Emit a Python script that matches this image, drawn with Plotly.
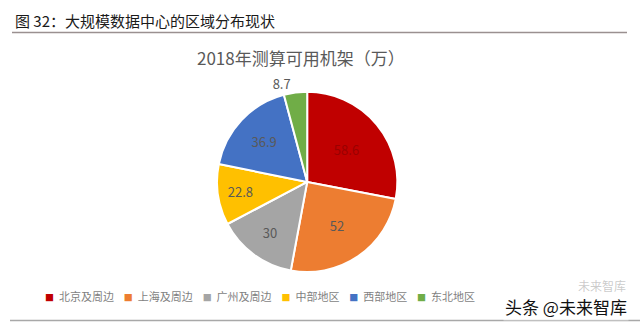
import plotly.graph_objects as go

# Estimated available rack capacity in 2018 (10k racks), by region
regions = ["北京及周边", "上海及周边", "广州及周边", "中部地区", "西部地区", "东北地区"]
racks = [58.6, 52, 30, 22.8, 36.9, 8.7]
colors = ["#C00000", "#ED7D31", "#A5A5A5", "#FFC000", "#4472C4", "#70AD47"]
label_colors = ["#9A0000", "#595959", "#595959", "#595959", "#595959", "#595959"]
label_positions = ["inside", "inside", "inside", "inside", "inside", "outside"]

header = "图 32：大规模数据中心的区域分布现状"
chart_title = "2018年测算可用机架（万）"
watermark = "头条 @未来智库"

CJK = "Noto Sans CJK SC"

fig = go.Figure()
fig.add_trace(go.Pie(
    labels=regions,
    values=racks,
    sort=False,
    direction="clockwise",
    rotation=0,
    marker=dict(colors=colors, line=dict(color="white", width=2)),
    text=[f"{v:g}" for v in racks],
    textinfo="text",
    textposition=label_positions,
    insidetextorientation="horizontal",
    insidetextfont=dict(family=CJK, size=13, color=label_colors),
    outsidetextfont=dict(family=CJK, size=13, color="#595959"),
    hoverinfo="label+value",
    showlegend=False,
    domain=dict(x=[0.33, 0.63], y=[0.155, 0.715]),
))

# Compact legend row: colored square + region name for each slice
legend_row = "&nbsp;&nbsp;&nbsp;&nbsp;".join(
    f"<span style='color:{c};font-size:9px'>■</span>&nbsp;&nbsp;{r}"
    for r, c in zip(regions, colors)
)

fig.update_layout(
    width=640, height=322,
    margin=dict(l=0, r=0, t=0, b=0),
    paper_bgcolor="white",
    plot_bgcolor="white",
    font=dict(family=CJK, color="#595959"),
    shapes=[
        dict(type="line", xref="paper", yref="paper", x0=12/640, x1=627/640,
             y0=1 - 32.5/322, y1=1 - 32.5/322, line=dict(color="#9A9090", width=1.5)),
        dict(type="line", xref="paper", yref="paper", x0=10/640, x1=1,
             y0=1 - 320.5/322, y1=1 - 320.5/322, line=dict(color="#A8A8A8", width=1.5)),
    ],
    annotations=[
        dict(text=header, xref="paper", yref="paper", x=13/640, y=1 - 20/322,
             xanchor="left", yanchor="middle", showarrow=False,
             font=dict(family=CJK, size=15, color="#1A1A1A")),
        dict(text=chart_title, xref="paper", yref="paper", x=301/640, y=1 - 57/322,
             xanchor="center", yanchor="middle", showarrow=False,
             font=dict(family=CJK, size=17, color="#595959")),
        dict(text=legend_row, xref="paper", yref="paper", x=43/640, y=1 - 296/322,
             xanchor="left", yanchor="middle", showarrow=False,
             font=dict(family=CJK, size=11, color="#7F7F7F")),
        dict(text="未来智库", xref="paper", yref="paper", x=628/640, y=1 - 285/322,
             xanchor="right", yanchor="middle", showarrow=False,
             font=dict(family=CJK, size=12, color="rgba(120,120,120,0.4)")),
        dict(text=watermark, xref="paper", yref="paper", x=629/640, y=1 - 306/322,
             xanchor="right", yanchor="middle", showarrow=False,
             bgcolor="rgba(255,255,255,0.55)",
             font=dict(family=CJK, size=17, color="#111111")),
    ],
)

fig.write_html("out.html")
